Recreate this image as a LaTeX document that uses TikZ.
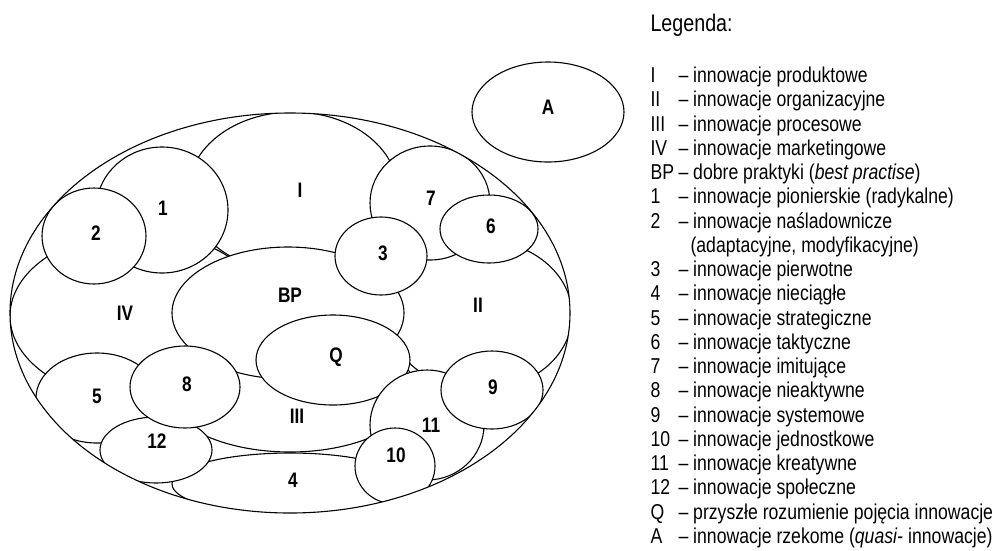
\documentclass[tikz,border=0pt]{standalone}
\usepackage{fontspec}
\setmainfont{Liberation Sans}[FakeStretch=0.82]
\begin{document}
\begin{tikzpicture}[x=1pt,y=-1pt, line width=1.1pt,
  lab/.style={font=\fontsize{21}{21}\selectfont\bfseries, inner sep=0pt},
  legtxt/.style={font=\fontsize{21.5}{24}\selectfont, anchor=base west, inner sep=0pt},
  ell/.style={draw=black, fill=white}]
\useasboundingbox (0,0) rectangle (994,550);
\begin{scope}
\clip (290,313) ellipse [x radius=280pt, y radius=200pt];
\draw[ell] (293,192) ellipse [x radius=105pt, y radius=80pt];  % I
\draw[ell] (480,315) ellipse [x radius=92pt, y radius=75pt];   % II
\draw[ell] (138,316) ellipse [x radius=128pt, y radius=84pt];  % IV
\draw[ell] (290,390) ellipse [x radius=125pt, y radius=62pt];  % III
\draw[ell] (290,484) ellipse [x radius=118pt, y radius=31pt];  % 4
\draw[ell] (288,313) ellipse [x radius=116pt, y radius=66pt];  % BP
\draw[ell] (333,360) ellipse [x radius=77pt, y radius=45pt];   % Q
\draw[ell] (162,210) ellipse [x radius=66pt, y radius=63pt];   % 1
\draw[ell] (94,236) ellipse [x radius=52pt, y radius=48pt];    % 2
\draw[ell] (430,203) ellipse [x radius=60pt, y radius=57pt];   % 7
\draw[ell] (381,256) ellipse [x radius=46pt, y radius=39pt];   % 3
\draw[ell] (489,229) ellipse [x radius=49pt, y radius=34pt];   % 6
\draw[ell] (97,398) ellipse [x radius=61pt, y radius=45pt];    % 5
\draw[ell] (156,450) ellipse [x radius=56pt, y radius=33pt];   % 12
\draw[ell] (185,387) ellipse [x radius=55pt, y radius=41pt];   % 8
\draw[ell] (427,425) ellipse [x radius=57pt, y radius=55pt];   % 11
\draw[ell] (492,390) ellipse [x radius=51pt, y radius=39pt];   % 9
\draw[ell] (395,466) ellipse [x radius=40pt, y radius=38pt];   % 10
\end{scope}
\draw (290,313) ellipse [x radius=280pt, y radius=200pt];
\draw[ell] (548,112) ellipse [x radius=76pt, y radius=50pt];   % A

\node[lab] (lI) at (300,190) {I};
\node[lab] (lII) at (478,305) {II};
\node[lab] (lIII) at (297,416) {III};
\node[lab] (lIV) at (125,313) {IV};
\node[lab] (lBP) at (290,295) {BP};
\node[lab] (lQ) at (336,357) {Q};
\node[lab] (l1) at (163,208) {1};
\node[lab] (l2) at (96,233) {2};
\node[lab] (l3) at (383,253) {3};
\node[lab] (l4) at (293,480) {4};
\node[lab] (l5) at (97,396) {5};
\node[lab] (l6) at (491,226) {6};
\node[lab] (l7) at (431,198) {7};
\node[lab] (l8) at (187,384) {8};
\node[lab] (l9) at (493,387) {9};
\node[lab] (l10) at (396,455) {10};
\node[lab] (l11) at (431,425) {11};
\node[lab] (l12) at (157,441) {12};
\node[lab] (lA) at (548,107) {A};

\node[legtxt, font=\fontsize{24}{26}\selectfont] (title) at (650,31) {Legenda:};
\node[legtxt] (s0) at (650,82.7) {I};
\node[legtxt] (d0) at (678,82.7) {– innowacje produktowe};
\node[legtxt] (s1) at (650,106.95) {II};
\node[legtxt] (d1) at (678,106.95) {– innowacje organizacyjne};
\node[legtxt] (s2) at (650,131.2) {III};
\node[legtxt] (d2) at (678,131.2) {– innowacje procesowe};
\node[legtxt] (s3) at (650,155.45) {IV};
\node[legtxt] (d3) at (678,155.45) {– innowacje marketingowe};
\node[legtxt] (s4) at (650,179.7) {BP};
\node[legtxt] (d4) at (678,179.7) {– dobre praktyki (\textit{best practise})};
\node[legtxt] (s5) at (650,203.95) {1};
\node[legtxt] (d5) at (678,203.95) {– innowacje pionierskie (radykalne)};
\node[legtxt] (s6) at (650,228.2) {2};
\node[legtxt] (d6) at (678,228.2) {– innowacje naśladownicze};
\node[legtxt] (d7) at (690,252.45) {(adaptacyjne, modyfikacyjne)};
\node[legtxt] (s8) at (650,276.7) {3};
\node[legtxt] (d8) at (678,276.7) {– innowacje pierwotne};
\node[legtxt] (s9) at (650,300.95) {4};
\node[legtxt] (d9) at (678,300.95) {– innowacje nieciągłe};
\node[legtxt] (s10) at (650,325.2) {5};
\node[legtxt] (d10) at (678,325.2) {– innowacje strategiczne};
\node[legtxt] (s11) at (650,349.45) {6};
\node[legtxt] (d11) at (678,349.45) {– innowacje taktyczne};
\node[legtxt] (s12) at (650,373.7) {7};
\node[legtxt] (d12) at (678,373.7) {– innowacje imitujące};
\node[legtxt] (s13) at (650,397.95) {8};
\node[legtxt] (d13) at (678,397.95) {– innowacje nieaktywne};
\node[legtxt] (s14) at (650,422.2) {9};
\node[legtxt] (d14) at (678,422.2) {– innowacje systemowe};
\node[legtxt] (s15) at (650,446.45) {10};
\node[legtxt] (d15) at (678,446.45) {– innowacje jednostkowe};
\node[legtxt] (s16) at (650,470.7) {11};
\node[legtxt] (d16) at (678,470.7) {– innowacje kreatywne};
\node[legtxt] (s17) at (650,494.95) {12};
\node[legtxt] (d17) at (678,494.95) {– innowacje społeczne};
\node[legtxt] (s18) at (650,519.2) {Q};
\node[legtxt] (d18) at (678,519.2) {– przyszłe rozumienie pojęcia innowacje};
\node[legtxt] (s19) at (650,543.45) {A};
\node[legtxt] (d19) at (678,543.45) {– innowacje rzekome (\textit{quasi}- innowacje)};
\end{tikzpicture}
\end{document}
